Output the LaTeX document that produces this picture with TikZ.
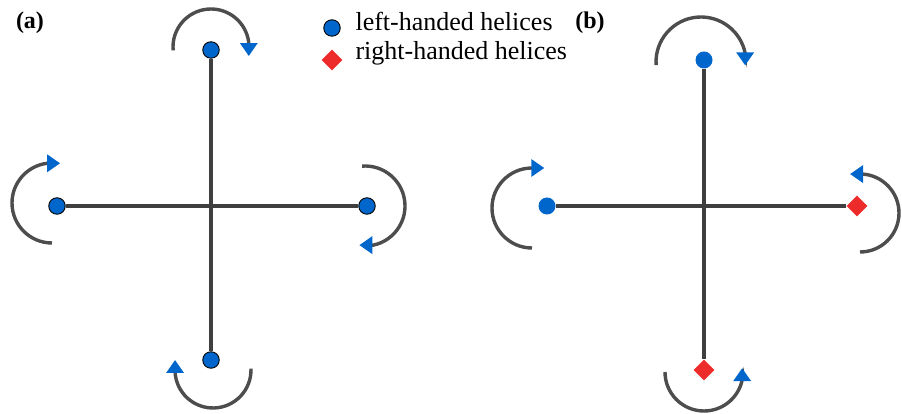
\documentclass[tikz,border=0pt]{standalone}
\usepackage{fontspec}
\setmainfont{Liberation Serif}
\usetikzlibrary{arrows.meta,shapes.geometric}

\definecolor{helixblue}{HTML}{0066CC}
\definecolor{helixred}{HTML}{EE2B2B}
\definecolor{axisgray}{HTML}{3F3F3F}
\definecolor{arcgray}{HTML}{4D4D4D}

\begin{document}
\begin{tikzpicture}[
    x=1pt, y=1pt,
    lefthel/.style={circle, fill=helixblue, draw=black, line width=0.9pt,
                    minimum size=16.5pt, inner sep=0pt},
    lefthelb/.style={circle, fill=helixblue, minimum size=17pt, inner sep=0pt},
    righthel/.style={diamond, fill=helixred, minimum size=21pt, inner sep=0pt},
    axis/.style={line width=3.2pt, axisgray},
    spin/.style={line width=3.4pt, arcgray,
                 -{Triangle[length=13pt, width=17pt, color=helixblue]}},
    panel/.style={font=\fontsize{24}{28}\selectfont\bfseries},
    legend/.style={font=\fontsize{26}{31}\selectfont, anchor=base west},
]
\useasboundingbox (0,0) rectangle (902,414);

% === Panel (a): all left-handed ===
\node[lefthel] (aT) at (211,364) {};
\node[lefthel] (aB) at (211,54) {};
\node[lefthel] (aL) at (57,208) {};
\node[lefthel] (aR) at (367,208) {};
\draw[axis] (aT) -- (aB);
\draw[axis] (aL) -- (aR);

% rotation arcs (clockwise everywhere), short straight run for the tip
\draw[spin] (211,367) ++(185:38) arc[start angle=185, end angle=6, radius=38] -- ++(0,-13);
\draw[spin] (52,211) ++(270:40) arc[start angle=270, end angle=97, radius=40] -- ++(13,0);
\draw[spin] (365,208) ++(94:40) arc[start angle=94, end angle=-78, radius=40] -- ++(-14,0);
\draw[spin] (213,44) ++(2:38) arc[start angle=2, end angle=-177, radius=38] -- ++(0,12);

\node[panel] (labA) at (30,391) {(a)};

% === Panel (b): mixed handedness ===
\node[lefthelb] (bT) at (704,354) {};
\node[righthel] (bB) at (704,44) {};
\node[lefthelb] (bL) at (547,208) {};
\node[righthel] (bR) at (857,208) {};
\draw[axis] (bT) -- (bB);
\draw[axis] (bL) -- (bR);

% rotation arcs (right side and bottom reversed)
\draw[spin] (701,352) ++(184:45) arc[start angle=184, end angle=11, radius=45] -- ++(0,-12);
\draw[spin] (532,206) ++(270:40) arc[start angle=270, end angle=91, radius=40] -- ++(13,0);
\draw[spin] (860,201) ++(-90:39) arc[start angle=-90, end angle=87, radius=39] -- ++(-12,0);
\draw[spin] (704,42) ++(180:39) arc[start angle=180, end angle=348, radius=39] -- ++(0,12);

\node[panel] (labB) at (590,391) {(b)};

% === Legend ===
\node[lefthel] (keyL) at (332,386) {};
\node[legend] (keyLtxt) at (352,383) {left-handed helices};
\node[righthel] (keyR) at (332,354) {};
\node[legend] (keyRtxt) at (352,354) {right-handed helices};

\end{tikzpicture}
\end{document}
